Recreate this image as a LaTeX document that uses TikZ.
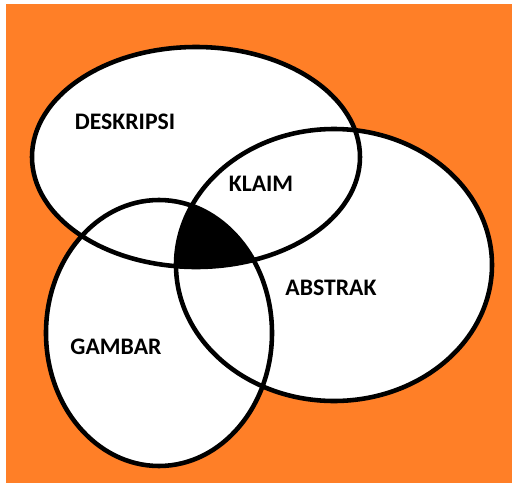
\documentclass[tikz,border=0pt]{standalone}
\usepackage{fontspec}
\setmainfont{Carlito}
\usetikzlibrary{positioning}
\definecolor{bgorange}{RGB}{255,127,39}
\tikzset{
    setnode/.style = {font=\bfseries\fontsize{13.5}{15}\selectfont,text=black,inner sep=0pt},
    setline/.style = {line width=2.6pt,draw=black},
    setfill/.style = {fill=white},
}

\begin{document}
\begin{tikzpicture}[x=0.02cm,y=-0.02cm]
\path[use as bounding box] (0,0) rectangle (512,484);
\fill[white] (0,0) rectangle (512,484);
\fill[bgorange] (6,4) rectangle (512,483);

% the three sets
\def\deskripsi{(196,157) ellipse (164 and 110)}
\def\abstrak{(334,265) ellipse (158 and 136)}
\def\gambar{(159,333) ellipse (113 and 133)}

\fill[setfill] \deskripsi;
\fill[setfill] \abstrak;
\fill[setfill] \gambar;

% common part of all three
\begin{scope}
\clip \deskripsi;
\clip \abstrak;
\fill[black] \gambar;
\end{scope}

\draw[setline] \deskripsi;
\draw[setline] \abstrak;
\draw[setline] \gambar;

%
\node[setnode] at (125,122) (D) {DESKRIPSI};
\node[setnode] at (261,184) (K) {KLAIM};
\node[setnode] at (331,288) (A) {ABSTRAK};
\node[setnode] at (116,347) (G) {GAMBAR};

\end{tikzpicture}
\end{document}
